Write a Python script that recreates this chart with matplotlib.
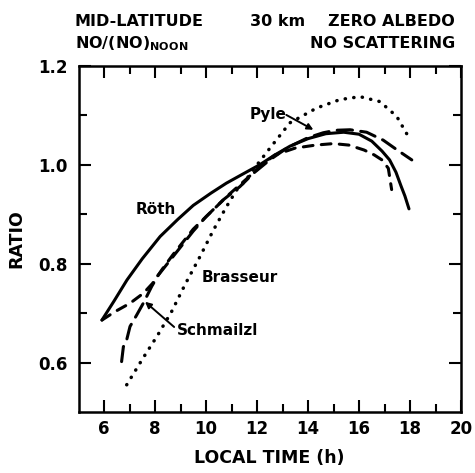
import matplotlib
matplotlib.use("Agg")
import matplotlib.pyplot as plt
from matplotlib.ticker import FixedLocator

plt.rcParams['font.family'] = ['DejaVu Sans']
plt.rcParams['font.weight'] = 'bold'
plt.rcParams['lines.scale_dashes'] = False

# ---- data ----
roth_x = [5.92, 6.4, 6.9, 7.5, 8.2, 8.9, 9.5, 10.2, 10.8, 11.5, 12.1, 12.7, 13.3,
          14.0, 14.7, 15.4, 16.0, 16.5, 16.9, 17.2, 17.45, 17.65, 17.8, 17.96]
roth_y = [0.686, 0.725, 0.767, 0.81, 0.855, 0.89, 0.918, 0.943, 0.963, 0.983, 1.0,
          1.02, 1.038, 1.053, 1.063, 1.066, 1.062, 1.048, 1.028, 1.01, 0.985, 0.957,
          0.937, 0.911]

schmailzl_x = [6.69, 6.76, 6.89, 7.02, 7.28, 7.54, 7.87, 8.13, 8.7, 9.5, 10.0, 10.67,
               11.33, 11.86, 12.5, 13.2, 14.0, 14.6, 15.1, 15.65, 16.3, 16.95, 17.5, 18.07]
schmailzl_y = [0.602, 0.632, 0.646, 0.673, 0.696, 0.72, 0.754, 0.777, 0.814, 0.866,
               0.895, 0.929, 0.956, 0.983, 1.01, 1.035, 1.055, 1.065, 1.07, 1.071,
               1.066, 1.05, 1.03, 1.01]

pyle_x = [5.92, 6.43, 7.02, 7.54, 7.9, 8.3, 8.7, 9.5, 10.2, 10.9, 11.6, 12.2, 12.7,
          13.5, 14.3, 15.0, 15.6, 16.2, 16.6, 16.9, 17.15, 17.28]
pyle_y = [0.686, 0.703, 0.72, 0.74, 0.76, 0.79, 0.818, 0.87, 0.905, 0.94, 0.972, 1.0,
          1.02, 1.034, 1.04, 1.043, 1.04, 1.03, 1.02, 1.01, 0.993, 0.95]

brasseur_x = [6.89, 7.53, 8.1, 8.65, 9.2, 9.76, 10.29, 10.81, 11.2, 11.53, 12.0, 12.51,
              13.29, 14.34, 15.25, 16.04, 16.82, 17.48, 17.96]
brasseur_y = [0.555, 0.609, 0.655, 0.703, 0.76, 0.814, 0.868, 0.916, 0.949, 0.967,
              1.0, 1.034, 1.085, 1.115, 1.132, 1.138, 1.128, 1.098, 1.055]

x_major = [6, 8, 10, 12, 14, 16, 18, 20]
x_minor = [7, 9, 11, 13, 15, 17, 19]
y_major = [0.6, 0.8, 1.0, 1.2]
y_minor = [0.7, 0.9, 1.1]
y_labels = ['0.6', '0.8', '1.0', '1.2']

W, H = 475, 473
fig = plt.figure(figsize=(W / 100, H / 100), dpi=100)
ax = fig.add_axes([78.5 / W, 1 - 412 / H, (461 - 78.5) / W, (412 - 66) / H])

lw = 2.2
ax.plot(roth_x, roth_y, color='black', lw=lw, solid_capstyle='round')
ax.plot(schmailzl_x, schmailzl_y, color='black', lw=lw, dashes=(11, 6),
        dash_capstyle='round')
ax.plot(pyle_x, pyle_y, color='black', lw=lw, dashes=(7, 6), dash_capstyle='round')
ax.plot(brasseur_x, brasseur_y, color='black', lw=2.5, dashes=(0.2, 6.0),
        dash_capstyle='round')

ax.set_xlim(5, 20)
ax.set_ylim(0.5, 1.2)
ax.xaxis.set_major_locator(FixedLocator(x_major))
ax.xaxis.set_minor_locator(FixedLocator(x_minor))
ax.yaxis.set_major_locator(FixedLocator(y_major))
ax.yaxis.set_minor_locator(FixedLocator(y_minor))
ax.set_yticklabels(y_labels)

for s in ax.spines.values():
    s.set_linewidth(1.8)
ax.tick_params(which='major', direction='in', length=8.5, width=1.5,
               top=True, right=True, labelsize=12)
ax.tick_params(which='minor', direction='in', length=5.5, width=1.5,
               top=True, right=True)
ax.tick_params(axis='y', which='major', pad=8)
ax.tick_params(axis='x', which='major', pad=6)
for lab in ax.get_xticklabels() + ax.get_yticklabels():
    lab.set_fontweight('bold')

ax.set_xlabel('LOCAL TIME (h)', fontsize=12.5, fontweight='bold')
ax.set_ylabel('RATIO', fontsize=12.5, fontweight='bold')
ax.xaxis.set_label_coords(0.5, (412 - 458) / 346, transform=ax.transAxes)
ax.xaxis.label.set_va('center')
ax.yaxis.set_label_coords((16 - 78.5) / 382.5, 0.5, transform=ax.transAxes)
ax.yaxis.label.set_va('center')

# curve labels
ax.text(8.04, 0.909, 'Röth', fontsize=11, fontweight='bold', ha='center', va='center')
ax.text(9.84, 0.772, 'Brasseur', fontsize=11, fontweight='bold', ha='left', va='center')
ax.text(8.85, 0.664, 'Schmailzl', fontsize=11, fontweight='bold', ha='left', va='center')
ax.text(11.7, 1.101, 'Pyle', fontsize=11, fontweight='bold', ha='left', va='center')
ax.annotate('', xy=(7.61, 0.723), xytext=(8.75, 0.672),
            arrowprops=dict(arrowstyle='-|>', color='black', lw=1.4,
                            mutation_scale=9, shrinkA=0, shrinkB=0))
ax.annotate('', xy=(14.21, 1.071), xytext=(13.15, 1.101),
            arrowprops=dict(arrowstyle='-|>', color='black', lw=1.4,
                            mutation_scale=9, shrinkA=0, shrinkB=0))

# header texts
fs = 11.5
fig.text(75 / W, 1 - 26 / H, 'MID-LATITUDE', fontsize=fs, fontweight='bold', ha='left', va='baseline')
fig.text(250 / W, 1 - 26 / H, '30 km', fontsize=fs, fontweight='bold', ha='left', va='baseline')
fig.text(455 / W, 1 - 26 / H, 'ZERO ALBEDO', fontsize=fs, fontweight='bold', ha='right', va='baseline')
fig.text(75 / W, 1 - 48 / H, r'NO/(NO)$_{\mathbf{NOON}}$', fontsize=fs, fontweight='bold',
         ha='left', va='baseline')
fig.text(455 / W, 1 - 48 / H, 'NO SCATTERING', fontsize=fs, fontweight='bold', ha='right', va='baseline')

fig.savefig('out.png', dpi=100)
